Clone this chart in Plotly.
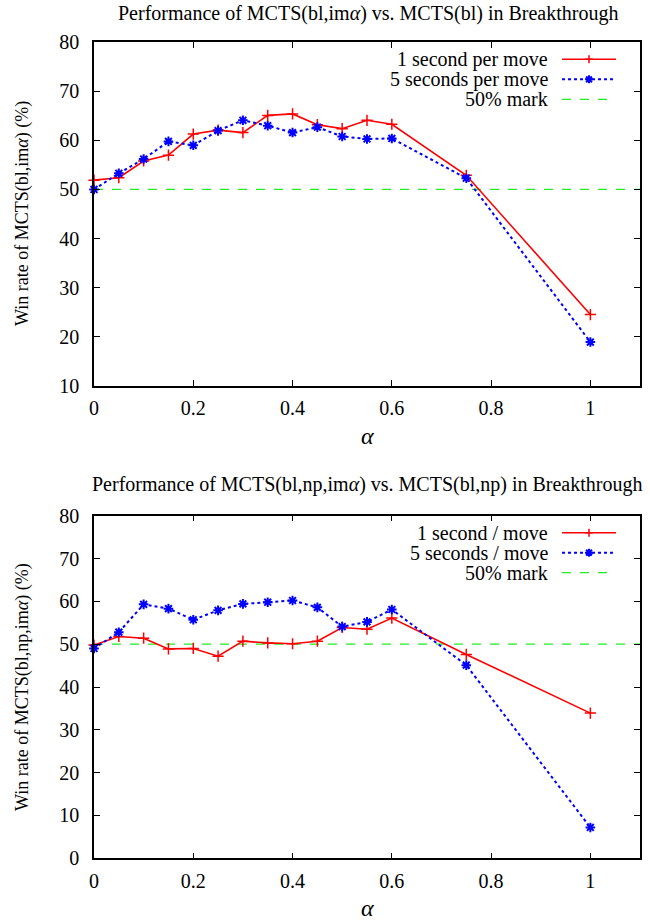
import plotly.graph_objects as go

# ---------------- data ----------------
ALPHA = [0, 0.05, 0.1, 0.15, 0.2, 0.25, 0.3, 0.35, 0.4, 0.45, 0.5, 0.55, 0.6, 0.75, 1.0]

TOP_1S = [51.9, 52.4, 55.8, 57.0, 61.3, 62.1, 61.6, 65.1, 65.4, 63.2, 62.4, 64.1, 63.3, 52.9, 24.5]
TOP_5S = [50.0, 53.3, 56.2, 59.8, 59.0, 62.0, 64.1, 63.0, 61.6, 62.7, 60.8, 60.3, 60.4, 52.3, 18.9]

BOT_1S = [49.8, 51.8, 51.4, 48.9, 49.0, 47.2, 50.7, 50.3, 50.1, 50.7, 53.9, 53.5, 56.1, 47.6, 33.9]
BOT_5S = [49.0, 52.8, 59.3, 58.3, 55.7, 57.9, 59.4, 59.8, 60.2, 58.6, 54.1, 55.2, 58.1, 45.1, 7.2]

MARK = 50

X_TICKS = [0, 0.2, 0.4, 0.6, 0.8, 1]
X_TICK_TEXT = ["0", "0.2", "0.4", "0.6", "0.8", "1"]
X_RANGE = [0, 1.1]
TOP_Y_TICKS = [10, 20, 30, 40, 50, 60, 70, 80]
BOT_Y_TICKS = [0, 10, 20, 30, 40, 50, 60, 70, 80]

TOP_TITLE = "Performance of MCTS(bl,im<i>α</i>) vs. MCTS(bl) in Breakthrough"
BOT_TITLE = "Performance of MCTS(bl,np,im<i>α</i>) vs. MCTS(bl,np) in Breakthrough"
TOP_YLABEL = "Win rate of MCTS(bl,im<i>α</i>) (%)"
BOT_YLABEL = "Win rate of MCTS(bl,np,im<i>α</i>) (%)"
TOP_LEGEND = ["1 second per move", "5 seconds per move", "50% mark"]
BOT_LEGEND = ["1 second / move", "5 seconds / move", "50% mark"]

# ---------------- styling ----------------
W, H = 650, 924
FONT = "Liberation Serif"
RED = "#ff0000"
BLUE = "#0000ff"
GREEN = "#22ee22"


def px(x):
    return x / W


def py(y):
    return 1 - y / H


fig = go.Figure()

red_marker = dict(symbol="cross-thin-open", size=8, color=RED, line=dict(width=1.5, color=RED))
blue_marker = dict(symbol="asterisk-open", size=8, color=BLUE, line=dict(width=2, color=BLUE))

for xa, ya, s1, s5 in [("x", "y", TOP_1S, TOP_5S), ("x2", "y2", BOT_1S, BOT_5S)]:
    fig.add_trace(go.Scatter(x=ALPHA, y=s1, mode="lines+markers", xaxis=xa, yaxis=ya,
                             line=dict(color=RED, width=1.6), marker=red_marker,
                             showlegend=False, cliponaxis=False))
    fig.add_trace(go.Scatter(x=ALPHA, y=s5, mode="lines+markers", xaxis=xa, yaxis=ya,
                             line=dict(color=BLUE, width=2, dash="dot"), marker=blue_marker,
                             showlegend=False, cliponaxis=False))

axis_common = dict(
    showgrid=False, zeroline=False, showline=True, linecolor="black", linewidth=1.5,
    mirror="allticks", ticks="inside", ticklen=6, tickwidth=1, tickcolor="black",
    tickfont=dict(family=FONT, size=20, color="black"), automargin=False,
)

top_dom = [py(385.7), py(42.3)]
bot_dom = [py(858.3), py(515.7)]
x_dom = [px(94), px(640)]

fig.update_layout(
    template="none",
    width=W, height=H,
    margin=dict(l=0, r=0, t=0, b=0, pad=0),
    paper_bgcolor="white", plot_bgcolor="white",
    font=dict(family=FONT, color="black"),
    xaxis=dict(domain=x_dom, range=X_RANGE, tickvals=X_TICKS, ticktext=X_TICK_TEXT,
               anchor="y", ticklabelstandoff=4, **axis_common),
    yaxis=dict(domain=top_dom, range=[10, 80], tickvals=TOP_Y_TICKS,
               anchor="x", ticklabelstandoff=9, **axis_common),
    xaxis2=dict(domain=x_dom, range=X_RANGE, tickvals=X_TICKS, ticktext=X_TICK_TEXT,
                anchor="y2", ticklabelstandoff=4, **axis_common),
    yaxis2=dict(domain=bot_dom, range=[0, 80], tickvals=BOT_Y_TICKS,
                anchor="x2", ticklabelstandoff=9, **axis_common),
)

# 50% mark lines
for xr, yr in [("x domain", "y"), ("x2 domain", "y2")]:
    fig.add_shape(type="line", xref=xr, yref=yr, x0=0, x1=1, y0=MARK, y1=MARK,
                  line=dict(color=GREEN, width=1.2, dash="dash"), layer="below")

annotations = []
# titles
annotations.append(dict(text=TOP_TITLE, x=px(368), y=py(13), xref="paper", yref="paper",
                        showarrow=False, font=dict(family=FONT, size=20), xanchor="center", yanchor="middle"))
annotations.append(dict(text=BOT_TITLE, x=px(367), y=py(485), xref="paper", yref="paper",
                        showarrow=False, font=dict(family=FONT, size=20), xanchor="center", yanchor="middle"))
# x labels
for yy in [436, 908]:
    annotations.append(dict(text="<i>α</i>", x=px(367), y=py(yy), xref="paper", yref="paper",
                            showarrow=False, font=dict(family=FONT, size=24), xanchor="center", yanchor="middle"))
# y labels
annotations.append(dict(text=TOP_YLABEL, x=px(22), y=py(214), xref="paper", yref="paper", textangle=-90,
                        showarrow=False, font=dict(family=FONT, size=18), xanchor="center", yanchor="middle"))
annotations.append(dict(text=BOT_YLABEL, x=px(22), y=py(687), xref="paper", yref="paper", textangle=-90,
                        showarrow=False, font=dict(family=FONT, size=18), xanchor="center", yanchor="middle"))

# manual legends (text right-aligned, sample on right as in the reference)
shapes = []


def plus_path(cx, cy, r):
    return f"M{px(cx - r)},{py(cy)} L{px(cx + r)},{py(cy)} M{px(cx)},{py(cy - r)} L{px(cx)},{py(cy + r)}"


def star_path(cx, cy, r):
    d = r * 0.72
    return (plus_path(cx, cy, r) +
            f" M{px(cx - d)},{py(cy - d)} L{px(cx + d)},{py(cy + d)}"
            f" M{px(cx - d)},{py(cy + d)} L{px(cx + d)},{py(cy - d)}")


for frame_top, labels in [(42.3, TOP_LEGEND), (515.7, BOT_LEGEND)]:
    rows = [frame_top + 17, frame_top + 37, frame_top + 57]
    styles = [dict(color=RED, width=1.6, dash="solid"),
              dict(color=BLUE, width=2, dash="dot"),
              dict(color=GREEN, width=1.2, dash="dash")]
    for i, (lab, ry, st) in enumerate(zip(labels, rows, styles)):
        annotations.append(dict(text=lab, x=px(549), y=py(ry), xref="paper", yref="paper",
                                showarrow=False, font=dict(family=FONT, size=20), borderpad=0,
                                xanchor="right", yanchor="middle"))
        shapes.append(dict(type="line", xref="paper", yref="paper", x0=px(562), x1=px(616),
                           y0=py(ry), y1=py(ry), line=st))
    shapes.append(dict(type="path", xref="paper", yref="paper", path=plus_path(589, rows[0], 4),
                       line=dict(color=RED, width=1.5)))
    shapes.append(dict(type="path", xref="paper", yref="paper", path=star_path(589, rows[1], 4),
                       line=dict(color=BLUE, width=2)))

fig.update_layout(annotations=annotations)
for s in shapes:
    fig.add_shape(**s)

fig.write_html("out.html",
               config={"displayModeBar": False},
               post_script="document.body.style.margin='0';document.body.style.padding='0';")
